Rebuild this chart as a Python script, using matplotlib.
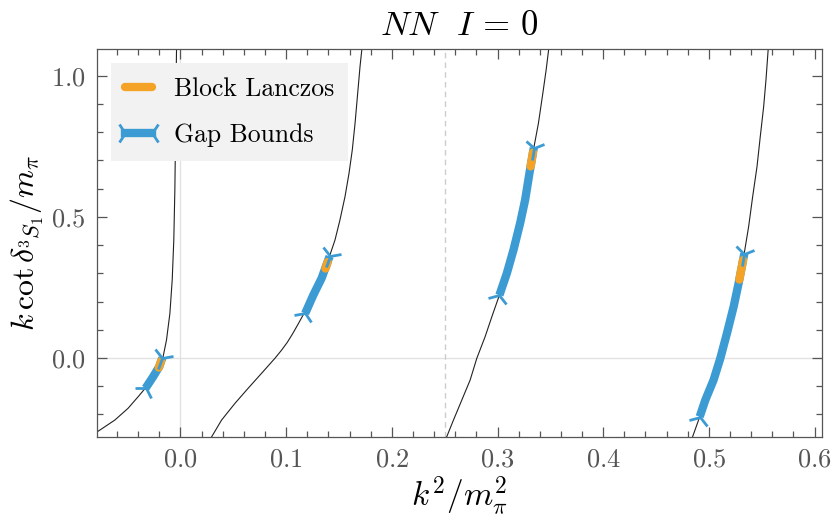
import numpy as np
import matplotlib
matplotlib.use("Agg")
import matplotlib.pyplot as plt
from matplotlib.lines import Line2D
from matplotlib.markers import MarkerStyle
from matplotlib.transforms import Affine2D
from matplotlib.legend_handler import HandlerBase

plt.rcParams['font.family'] = 'serif'
plt.rcParams['font.serif'] = ['cmr10']
plt.rcParams['mathtext.fontset'] = 'cm'
plt.rcParams['axes.formatter.use_mathtext'] = True

# black curve branches
b1_x = [-0.0785, -0.0621, -0.0495, -0.0400, -0.0321, -0.0258, -0.0195, -0.0164,
        -0.0132, -0.0100, -0.0078, -0.0063, -0.0053, -0.0047, -0.0041, -0.0037]
b1_y = [-0.261, -0.220, -0.178, -0.137, -0.102, -0.066, -0.025, 0.005,
        0.064, 0.158, 0.277, 0.418, 0.596, 0.773, 0.986, 1.10]
b2_x = [0.0294, 0.0389, 0.0515, 0.0641, 0.0768, 0.0894, 0.0955, 0.1010, 0.1060,
        0.1110, 0.1178, 0.1257, 0.1336, 0.1399, 0.1462, 0.1509, 0.1557, 0.1595,
        0.1626, 0.1652, 0.1677, 0.1699, 0.1718]
b2_y = [-0.28, -0.220, -0.161, -0.107, -0.054, -0.001, 0.027, 0.055, 0.085,
        0.118, 0.164, 0.223, 0.283, 0.348, 0.418, 0.489, 0.572, 0.655,
        0.738, 0.832, 0.939, 1.033, 1.10]
b3_x = [0.2513, 0.2583, 0.2662, 0.2741, 0.2804, 0.2883, 0.2946, 0.3018, 0.3088,
        0.3151, 0.3214, 0.3261, 0.3302, 0.3340, 0.3387, 0.3429, 0.3460, 0.3486]
b3_y = [-0.285, -0.220, -0.149, -0.078, -0.001, 0.076, 0.146, 0.223, 0.300,
        0.383, 0.478, 0.560, 0.655, 0.738, 0.832, 0.939, 1.021, 1.10]
b4_x = [0.4840, 0.4902, 0.4966, 0.5044, 0.5108, 0.5171, 0.5234, 0.5281, 0.5329,
        0.5376, 0.5414, 0.5455, 0.5486, 0.5518, 0.5540, 0.5562]
b4_y = [-0.285, -0.220, -0.149, -0.078, -0.001, 0.088, 0.182, 0.265, 0.359,
        0.466, 0.572, 0.678, 0.785, 0.891, 0.986, 1.10]

# gap bounds (lower bound -> upper bound along the curve)
gap1_x = [-0.0330, -0.0258, -0.0200, -0.0172]
gap1_y = [-0.107, -0.066, -0.030, 0.000]
gap2_x = [0.1180, 0.1257, 0.1336, 0.1399, 0.1411]
gap2_y = [0.158, 0.223, 0.283, 0.348, 0.360]
gap3_x = [0.3018, 0.3088, 0.3151, 0.3214, 0.3261, 0.3302, 0.3340, 0.3343]
gap3_y = [0.223, 0.300, 0.383, 0.478, 0.560, 0.655, 0.738, 0.745]
gap4_x = [0.4913, 0.4966, 0.5044, 0.5108, 0.5171, 0.5234, 0.5281, 0.5335]
gap4_y = [-0.208, -0.149, -0.078, -0.001, 0.088, 0.182, 0.265, 0.370]

# block lanczos
bl1_x = [-0.0205, -0.0183]
bl1_y = [-0.034, -0.011]
bl2_x = [0.1372, 0.1393]
bl2_y = [0.317, 0.340]
bl3_x = [0.3313, 0.3335]
bl3_y = [0.679, 0.728]
bl4_x = [0.5288, 0.5323]
bl4_y = [0.278, 0.347]

blue = '#3d9bd3'
orange = '#f4a326'
grey = '#555555'
LW = 6.0
MS = 17
MEW = 2.0

fig = plt.figure(figsize=(8.33, 5.2), dpi=100)
ax = fig.add_axes([0.1164, 0.1596, 0.8704, 0.7462])
ax.set_xlim(-0.079, 0.607)
ax.set_ylim(-0.28, 1.095)

ax.axhline(0, color='#e2e2e2', lw=1.0, zorder=1)
ax.axvline(0, color='#e2e2e2', lw=1.0, zorder=1)
ax.axvline(0.25, color='#cccccc', lw=1.0, ls=(0, (4, 3)), zorder=1)

for bx, by in [(b1_x, b1_y), (b2_x, b2_y), (b3_x, b3_y), (b4_x, b4_y)]:
    ax.plot(bx, by, color='#222222', lw=0.8, zorder=2)

for gx, gy in [(gap1_x, gap1_y), (gap2_x, gap2_y), (gap3_x, gap3_y), (gap4_x, gap4_y)]:
    ax.plot(gx, gy, color=blue, lw=LW, solid_capstyle='butt', zorder=3)

for ox, oy in [(bl1_x, bl1_y), (bl2_x, bl2_y), (bl3_x, bl3_y), (bl4_x, bl4_y)]:
    ax.plot(ox, oy, color=orange, lw=LW, solid_capstyle='round', zorder=4)

# rotated tri markers at both ends of every gap segment
def disp_angle(x0, y0, x1, y1):
    p0 = ax.transData.transform((x0, y0))
    p1 = ax.transData.transform((x1, y1))
    return np.degrees(np.arctan2(p1[1] - p0[1], p1[0] - p0[0]))

for gx, gy in [(gap1_x, gap1_y), (gap2_x, gap2_y), (gap3_x, gap3_y), (gap4_x, gap4_y)]:
    a_lo = disp_angle(gx[0], gy[0], gx[1], gy[1])
    a_hi = disp_angle(gx[-2], gy[-2], gx[-1], gy[-1])
    m_lo = MarkerStyle('4', transform=Affine2D().rotate_deg(a_lo))
    m_hi = MarkerStyle('3', transform=Affine2D().rotate_deg(a_hi))
    ax.plot(gx[0], gy[0], marker=m_lo, ms=MS, mew=MEW, color=blue, zorder=5)
    ax.plot(gx[-1], gy[-1], marker=m_hi, ms=MS, mew=MEW, color=blue, zorder=5)

ax.set_xticks([0.0, 0.1, 0.2, 0.3, 0.4, 0.5, 0.6])
ax.set_yticks([0.0, 0.5, 1.0])
ax.set_xticks(np.arange(-0.06, 0.61, 0.02), minor=True)
ax.set_yticks(np.arange(-0.2, 1.09, 0.1), minor=True)
ax.tick_params(which='both', direction='in', top=True, right=True, color=grey,
               labelcolor=grey, labelsize=19, width=0.9)
ax.tick_params(which='major', length=7, pad=8)
ax.tick_params(which='minor', length=4)
for s in ax.spines.values():
    s.set_color(grey)
    s.set_linewidth(0.9)

ax.set_title(r'$NN\ \ I\,=\,0$', fontsize=25, pad=10)
ax.set_xlabel(r'$k^2/m_\pi^2$', fontsize=24, labelpad=2)
ax.set_ylabel(r'$k\,\cot\delta_{{}^3S_1}/m_\pi$', fontsize=23, labelpad=4)


class GapHandler(HandlerBase):
    def create_artists(self, legend, orig_handle, xdescent, ydescent,
                       width, height, fontsize, trans):
        y = height / 2 - ydescent
        x0 = -xdescent
        x1 = width - xdescent
        ln = Line2D([x0, x1], [y, y], color=blue, lw=LW, transform=trans)
        m0 = Line2D([x0], [y], marker='4', ms=MS, mew=MEW, color=blue, transform=trans)
        m1 = Line2D([x1], [y], marker='3', ms=MS, mew=MEW, color=blue, transform=trans)
        return [ln, m0, m1]


h_bl = Line2D([], [], color=orange, lw=LW, solid_capstyle='round')
h_gap = Line2D([], [], color=blue)
leg = ax.legend([h_bl, h_gap], ['Block Lanczos', 'Gap Bounds'],
                handler_map={h_gap: GapHandler()}, loc='upper left',
                fontsize=18.5, frameon=True, fancybox=False, facecolor='#f2f2f2',
                edgecolor='none', framealpha=1.0, handlelength=1.05,
                handletextpad=0.85, labelspacing=0.85, borderpad=0.55,
                borderaxespad=0.55)
leg.get_frame().set_linewidth(0)

fig.savefig('out.png', dpi=100)
